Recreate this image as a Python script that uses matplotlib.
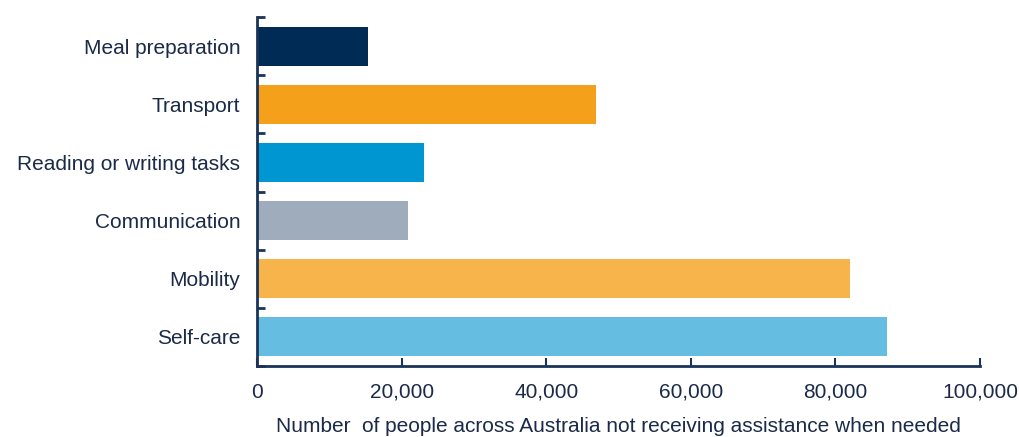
import matplotlib.pyplot as plt
import numpy as np

categories = ['Meal preparation', 'Transport', 'Reading or writing tasks',
              'Communication', 'Mobility', 'Self-care']
values = [15300, 46900, 23100, 20900, 82000, 87100]
colors = ['#002b54', '#f5a01a', '#0096d1', '#9eacbb', '#f6b44b', '#66bde2']
xticks = [0, 20000, 40000, 60000, 80000, 100000]

plt.rcParams['font.family'] = ['Liberation Sans', 'DejaVu Sans']
navy = '#1b3358'
txt = '#1a2a48'
fs = 15

fig = plt.figure(figsize=(10.19, 4.37), dpi=100)
ax = fig.add_axes([0.2522, 0.1625, 0.7095, 0.7985])

y = np.arange(len(categories))
ax.barh(y, values, height=0.67, color=colors)
ax.set_ylim(len(categories) - 0.5, -0.5)
ax.set_xlim(0, 100000)

ax.set_yticks(y)
ax.set_yticklabels(categories, fontsize=fs, color=txt)
ax.set_yticks(np.arange(len(categories) + 1) - 0.5, minor=True)
ax.tick_params(axis='y', which='major', length=0, pad=12)
ax.tick_params(axis='y', which='minor', direction='in', length=6, width=2, color=navy)

ax.set_xticks(xticks)
ax.set_xticklabels(['{:,}'.format(v) for v in xticks], fontsize=fs, color=txt)
ax.tick_params(axis='x', direction='in', length=6, width=1.5, color=navy, pad=12)
ax.set_xlabel('Number  of people across Australia not receiving assistance when needed',
              fontsize=fs, color=txt, labelpad=11)

for s in ['top', 'right']:
    ax.spines[s].set_visible(False)
for s in ['left', 'bottom']:
    ax.spines[s].set_color(navy)
    ax.spines[s].set_linewidth(2)

fig.savefig('out.png', dpi=100)
